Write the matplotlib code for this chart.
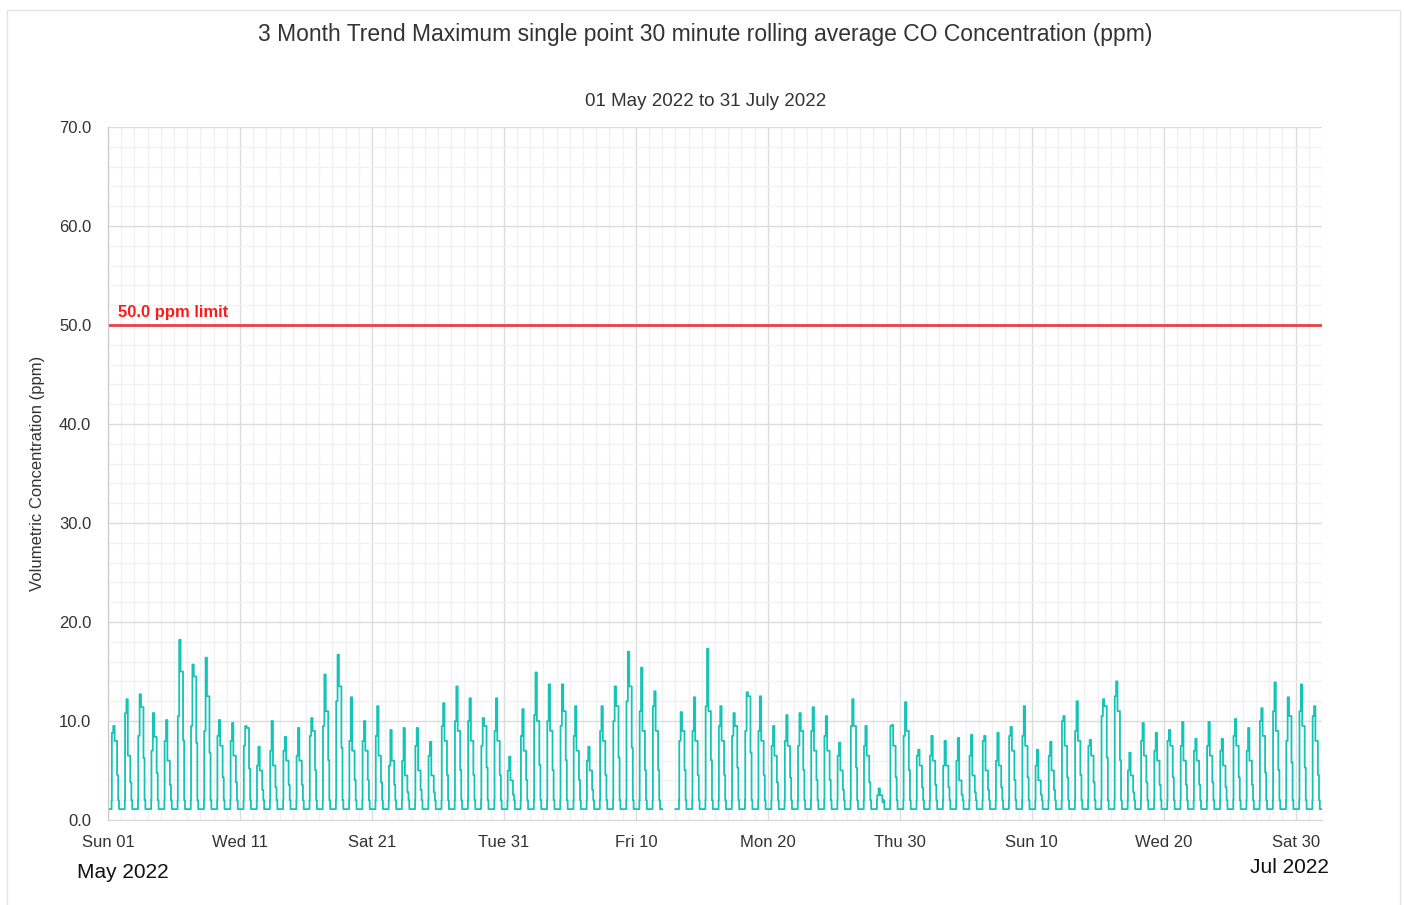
import numpy as np
import matplotlib
matplotlib.use('Agg')
import matplotlib.pyplot as plt
import matplotlib.dates as mdates
from matplotlib.patches import Rectangle

plt.rcParams['font.family'] = ['Liberation Sans', 'DejaVu Sans']

# ---------------- data ----------------
start = np.datetime64('2022-05-01T00:00')
n_days = 92
limit = 50.0
base = 1.1   # night-time level

# daily peak, level right after the morning rise, afternoon level (ppm); nan = no data
peak = [9.5, 12.2, 12.7, 10.8, 10.1, 18.2, 15.7, 16.4, 10.1, 9.8,
        9.5, 7.4, 10.0, 8.4, 9.3, 10.3, 14.7, 16.7, 12.4, 10.0,
        11.5, 9.1, 9.3, 9.3, 7.9, 11.8, 13.5, 12.3, 10.3, 12.3,
        6.4, 11.2, 14.9, 13.7, 13.7, 11.5, 7.4, 11.5, 13.5, 17.0,
        15.4, 13.0, np.nan, 10.9, 12.4, 17.3, 11.5, 10.8, 12.9, 12.5,
        9.5, 10.6, 10.8, 11.4, 10.5, 7.8, 12.2, 9.5, 3.2, 9.6,
        11.9, 7.1, 8.5, 8.0, 8.3, 8.6, 8.5, 8.8, 9.4, 11.5,
        7.1, 7.9, 10.5, 12.0, 8.1, 12.2, 14.0, 6.8, 9.8, 8.8,
        9.1, 9.9, 8.2, 9.9, 8.2, 10.2, 9.3, 11.3, 13.9, 12.4,
        13.7, 11.5]
am = [8.8, 10.8, 8.5, 7.0, 8.0, 10.5, 9.5, 9.0, 8.5, 8.0,
      7.5, 5.5, 7.0, 7.0, 6.5, 8.5, 9.5, 12.0, 8.0, 8.0,
      8.5, 5.5, 6.0, 7.5, 6.5, 9.5, 10.0, 10.0, 7.5, 9.0,
      5.0, 8.5, 10.6, 10.0, 9.5, 8.5, 6.0, 9.0, 10.0, 12.0,
      11.0, 11.5, np.nan, 8.0, 9.0, 11.5, 9.5, 8.5, 9.0, 9.0,
      7.5, 8.0, 7.5, 9.0, 8.5, 6.5, 9.5, 7.5, 2.5, 9.5,
      8.5, 6.5, 6.5, 5.5, 6.0, 6.5, 8.0, 6.0, 8.5, 8.5,
      5.5, 6.5, 10.0, 9.0, 7.5, 10.5, 12.5, 5.0, 8.0, 7.0,
      8.0, 7.5, 7.0, 7.5, 7.0, 8.5, 7.0, 10.0, 11.0, 8.0,
      11.0, 10.5]
pm = [8.0, 6.5, 11.4, 8.4, 6.0, 15.0, 14.5, 12.5, 7.5, 6.5,
      9.3, 5.0, 5.5, 6.0, 6.0, 9.0, 11.0, 13.5, 7.0, 7.0,
      6.5, 6.0, 4.5, 5.0, 4.5, 8.0, 9.0, 8.0, 9.5, 8.0,
      4.0, 7.0, 10.0, 9.0, 11.0, 7.0, 5.0, 8.0, 11.5, 13.5,
      9.0, 9.0, np.nan, 9.0, 8.0, 11.0, 8.0, 9.5, 12.5, 8.0,
      6.5, 7.5, 9.0, 7.0, 7.0, 5.0, 9.5, 6.5, 2.5, 7.5,
      9.0, 5.5, 6.0, 5.5, 4.0, 4.5, 5.0, 5.5, 7.0, 7.5,
      4.0, 5.0, 7.5, 8.0, 6.5, 11.5, 11.0, 4.5, 6.5, 6.0,
      7.5, 6.0, 6.0, 6.5, 5.5, 7.5, 6.0, 8.5, 9.0, 10.5,
      9.5, 8.0]

# hours of the day at which the level changes (night, rise, morning, peak, afternoon, evening)
hours = [0.0, 6.5, 7.0, 9.5, 12.0, 16.5, 18.5, 20.0]

# build the stepped series day by day
times, vals = [], []
for d in range(n_days):
    if np.isnan(peak[d]):
        times.append(start + np.timedelta64(d * 24 * 60, 'm'))
        vals.append(np.nan)
        continue
    day_vals = [base, 2.0, am[d], peak[d], pm[d], (pm[d] + base) / 2, 2.0, base]
    for h, v in zip(hours, day_vals):
        times.append(start + np.timedelta64(int((d * 24 + h) * 60), 'm'))
        vals.append(v)
times.append(start + np.timedelta64(n_days * 24 * 60, 'm'))
vals.append(base)
times = np.array(times).astype('datetime64[m]').astype(object)

# ---------------- plot ----------------
fig = plt.figure(figsize=(14.04, 9.05), dpi=100)
ax = fig.add_axes([108 / 1404, 1 - 820 / 905, (1322 - 108) / 1404, (820 - 127) / 905])

ax.plot(times, vals, color='#14c4b6', lw=1.3, drawstyle='steps-post')
ax.axhline(limit, color='#e8414b', lw=2)
ax.text(start.astype(object) + np.timedelta64(19, 'h').astype(object), limit + 0.5,
        '50.0 ppm limit', color='#ff1a1a', fontsize=12, fontweight='bold', va='bottom')

t0 = start.astype(object)
t1 = (start + np.timedelta64(n_days, 'D')).astype(object)
ax.set_xlim(t0, t1)
ax.set_ylim(0, 70)

major_days = [start + np.timedelta64(10 * k, 'D') for k in range(10)]
ax.set_xticks([m.astype(object) for m in major_days])
ax.xaxis.set_major_formatter(mdates.DateFormatter('%a %d'))
ax.xaxis.set_minor_locator(mdates.DayLocator())
ax.set_yticks(np.arange(0, 71, 10))
ax.set_yticks(np.arange(0, 71, 2), minor=True)
ax.yaxis.set_major_formatter(matplotlib.ticker.FormatStrFormatter('%.1f'))

ax.grid(which='major', color='#dcdcdc', lw=1)
ax.grid(which='minor', color='#f1f1f1', lw=1)
ax.set_axisbelow(True)
ax.tick_params(which='both', length=0, labelsize=12, colors='#333333')
ax.tick_params(axis='x', pad=11)
ax.tick_params(axis='y', pad=12)
for s in ['top', 'right']:
    ax.spines[s].set_visible(False)
ax.spines['left'].set_color('#c8c8c8')
ax.spines['bottom'].set_color('#d8d8d8')

ax.set_ylabel('Volumetric Concentration (ppm)', fontsize=12, color='#333333', labelpad=10)

fig.text(705 / 1404, 1 - 35 / 905, '3 Month Trend Maximum single point 30 minute rolling average CO Concentration (ppm)',
         ha='center', va='center', fontsize=16.5, color='#333333')
fig.text(706 / 1404, 1 - 101 / 905, '01 May 2022 to 31 July 2022',
         ha='center', va='center', fontsize=13.5, color='#333333')
fig.text(77 / 1404, 1 - 872 / 905, 'May 2022', ha='left', va='center', fontsize=15, color='#111111')
fig.text(1329 / 1404, 1 - 867 / 905, 'Jul 2022', ha='right', va='center', fontsize=15, color='#111111')

fig.patches.append(Rectangle((7 / 1404, -0.01), (1400 - 7) / 1404, 1.0045 - 5 / 905,
                             transform=fig.transFigure, fill=False, edgecolor='#e2e2e2', lw=1))

fig.savefig('out.png', dpi=100, facecolor='white')
